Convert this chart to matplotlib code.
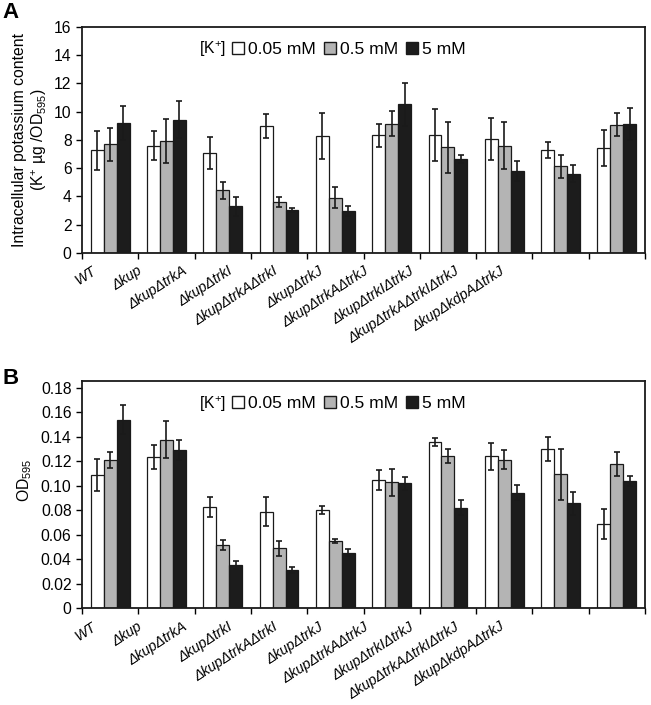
import numpy as np
import matplotlib
matplotlib.use("Agg")
import matplotlib.pyplot as plt
from matplotlib.patches import Patch
import matplotlib.transforms as mtransforms

plt.rcParams["font.family"] = ["Liberation Sans", "DejaVu Sans"]
plt.rcParams["mathtext.fontset"] = "custom"
plt.rcParams["mathtext.rm"] = "Liberation Sans"
plt.rcParams["mathtext.it"] = "Liberation Sans:italic"

strains = ["WT", "Δkup", "ΔkupΔtrkA", "ΔkupΔtrkI", "ΔkupΔtrkAΔtrkI",
           "ΔkupΔtrkJ", "ΔkupΔtrkAΔtrkJ", "ΔkupΔtrkIΔtrkJ",
           "ΔkupΔtrkAΔtrkIΔtrkJ", "ΔkupΔkdpAΔtrkJ"]
conc_labels = ["0.05 mM", "0.5 mM", "5 mM"]

# panel A: intracellular K+ (ug / OD595)
k_low = [7.26, 7.6, 7.07, 8.96, 8.27, 8.32, 8.32, 8.06, 7.28, 7.42]
k_mid = [7.68, 7.9, 4.42, 3.6, 3.9, 9.15, 7.47, 7.6, 6.12, 9.08]
k_high = [9.2, 9.43, 3.3, 3.05, 3.0, 10.5, 6.64, 5.8, 5.6, 9.15]
k_low_err = [1.4, 1.05, 1.15, 0.85, 1.65, 0.8, 1.85, 1.45, 0.57, 1.25]
k_mid_err = [1.15, 1.55, 0.57, 0.35, 0.75, 0.87, 1.8, 1.65, 0.83, 0.83]
k_high_err = [1.2, 1.3, 0.65, 0.15, 0.35, 1.5, 0.3, 0.7, 0.6, 1.13]

# panel B: OD595
od_low = [0.1087, 0.1236, 0.0829, 0.0788, 0.0801, 0.1046, 0.1358, 0.1242, 0.1299, 0.0687]
od_mid = [0.1209, 0.1377, 0.0516, 0.0489, 0.0549, 0.1030, 0.1242, 0.1214, 0.1092, 0.1176]
od_high = [0.1540, 0.1290, 0.0353, 0.0312, 0.0454, 0.1019, 0.0820, 0.0945, 0.0856, 0.1040]
od_low_err = [0.013, 0.010, 0.008, 0.012, 0.0035, 0.008, 0.003, 0.011, 0.010, 0.012]
od_mid_err = [0.0065, 0.015, 0.004, 0.006, 0.002, 0.011, 0.006, 0.008, 0.021, 0.010]
od_high_err = [0.0117, 0.008, 0.0035, 0.0027, 0.003, 0.0055, 0.006, 0.0065, 0.0095, 0.004]

COLORS = ["white", "#b4b4b4", "#1c1c1c"]
FS = 11.3


def draw_panel(ax, series, errs, ymax, yticks, ytick_labels):
    x = np.arange(len(strains))
    w = 0.23
    for j, (vals, err) in enumerate(zip(series, errs)):
        ax.bar(x + (j - 1) * w, vals, w, color=COLORS[j], edgecolor="#1a1a1a",
               linewidth=0.9, yerr=err, capsize=2,
               error_kw=dict(elinewidth=1.2, capthick=1.2, ecolor="#1a1a1a"))
    ax.set_xlim(-0.5, len(strains) - 0.5)
    ax.set_ylim(0, ymax)
    ax.set_yticks(yticks)
    ax.set_yticklabels(ytick_labels, fontsize=FS)
    ax.set_xticks(np.arange(len(strains) + 1) - 0.5)
    ax.set_xticklabels([])
    ax.tick_params(axis="both", direction="out", length=4, width=1.0)
    for s in ax.spines.values():
        s.set_linewidth(1.3)
        s.set_color("#1a1a1a")

    # strain names (spaced independently from the bar groups, as in the figure)
    trans = mtransforms.blended_transform_factory(ax.transData, ax.transAxes)
    for i, name in enumerate(strains):
        ax.text(-0.27 + i * 0.805, -0.075, name, transform=trans, rotation=33,
                ha="right", va="center", rotation_mode="anchor",
                style="italic", fontsize=10.3)

    # legend: "[K+]" label then three squares
    ax.text(0.207, 0.90, "[K$^{+}$]", transform=ax.transAxes, fontsize=FS,
            va="center", ha="left")
    handles = [Patch(facecolor=c, edgecolor="#1a1a1a", linewidth=1.0) for c in COLORS]
    ax.legend(handles, conc_labels, ncol=3, loc="center left",
              bbox_to_anchor=(0.266, 0.90), frameon=False, fontsize=12.6,
              handlelength=0.68, handleheight=0.68, handletextpad=0.25,
              columnspacing=0.45, borderpad=0, borderaxespad=0)


fig = plt.figure(figsize=(6.51, 7.05), dpi=100)
ax_a = fig.add_axes([82 / 651, 1 - 253 / 705, 563 / 651, 226.3 / 705])
ax_b = fig.add_axes([82 / 651, 1 - 608.3 / 705, 563 / 651, 227.3 / 705])

draw_panel(ax_a, [k_low, k_mid, k_high], [k_low_err, k_mid_err, k_high_err],
           16, np.arange(0, 17, 2), [str(v) for v in range(0, 17, 2)])
ax_a.set_ylabel("Intracellular potassium content\n(K$^{+}$ µg /OD$_{595}$)",
                fontsize=FS)
ax_a.yaxis.set_label_coords(-0.058, 0.5)

b_ticks = np.round(np.arange(0, 0.181, 0.02), 2)
draw_panel(ax_b, [od_low, od_mid, od_high], [od_low_err, od_mid_err, od_high_err],
           0.1855, b_ticks, ["0"] + [f"{v:.2f}" for v in b_ticks[1:]])
ax_b.set_ylabel("OD$_{595}$", fontsize=FS)
ax_b.yaxis.set_label_coords(-0.085, 0.565)

fig.text(0.004, 0.997, "A", fontsize=16, fontweight="bold", va="top", ha="left")
fig.text(0.004, 1 - 368 / 705, "B", fontsize=16, fontweight="bold", va="top", ha="left")

fig.savefig("out.png", dpi=100)
